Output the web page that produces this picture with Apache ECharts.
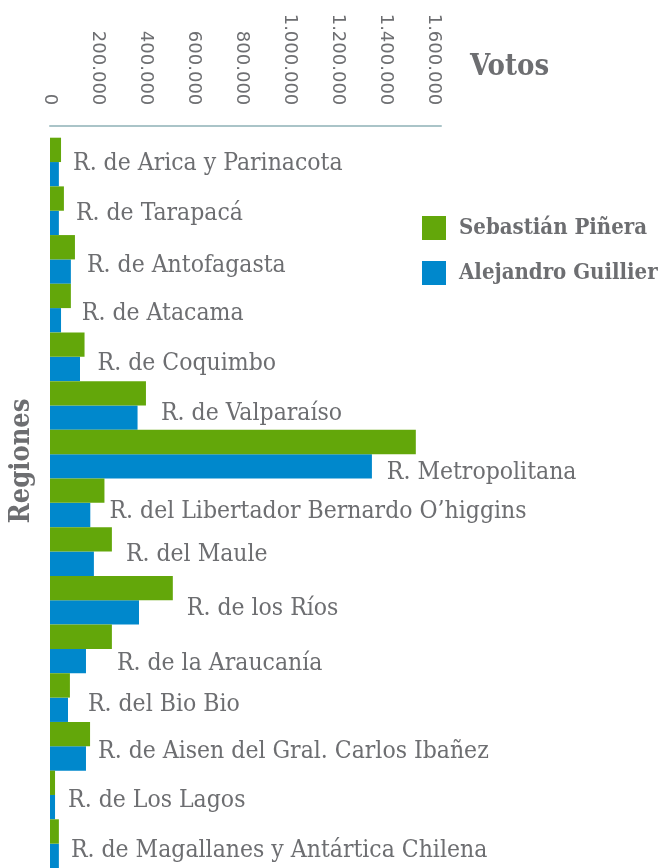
<!DOCTYPE html>
<html>
<head>
<meta charset="utf-8">
<script src="https://cdn.jsdelivr.net/npm/echarts@6/dist/echarts.min.js"></script>
<style>
  html, body { margin: 0; padding: 0; background: #fff; }
  #chart { width: 660px; height: 868px; }
</style>
</head>
<body>
<div id="chart"></div>
<script>
// regiones, de arriba hacia abajo
var regiones = [
    'R. de Arica y Parinacota', 'R. de Tarapacá', 'R. de Antofagasta', 'R. de Atacama',
    'R. de Coquimbo', 'R. de Valparaíso', 'R. Metropolitana', 'R. del Libertador Bernardo O\u2019higgins',
    'R. del Maule', 'R. de los Ríos', 'R. de la Araucanía', 'R. del Bio Bio',
    'R. de Aisen del Gral. Carlos Ibañez', 'R. de Los Lagos', 'R. de Magallanes y Antártica Chilena'
];
var pinera   = [46000, 58000, 104000, 87000, 144000, 400000, 1525000, 227000, 258000, 512000, 258000, 83000, 167000, 21000, 37000];
var guillier = [37000, 37000,  87000, 46000, 125000, 365000, 1342000, 168000, 183000, 371000, 150000, 75000, 150000, 21000, 37000];
var ticksVotos = [0, 200000, 400000, 600000, 800000, 1000000, 1200000, 1400000, 1600000];

var GRIS = '#6d6e71';
var SERIF = "'DejaVu Serif Condensed', 'DejaVu Serif', serif";

// ajuste de la etiqueta de cada region [dx, dy], a ojo
var ajuste = [[7,2],[7,3],[7,6],[6,6],[8,7],[10,8],[-34,19],[0,9],[9,3],[9,9],[0,15],[13,7],[3,6],[8,6],[7,7]];

var fmtMiles = function (v) {
    return String(v).replace(/\B(?=(\d{3})+(?!\d))/g, '.');
};

var datosPinera = pinera.map(function (v, i) {
    return {
        value: v,
        label: { offset: [ajuste[i][0], 12 + ajuste[i][1]] }
    };
});

var chart = echarts.init(document.getElementById('chart'));
chart.setOption({
    animation: false,
    backgroundColor: '#fff',
    grid: { left: 50, top: 137.7, width: 391, height: 735.3 },
    legend: {
        orient: 'vertical',
        left: 422, top: 216, padding: 0,
        itemWidth: 24, itemHeight: 24, itemGap: 21,
        icon: 'rect',
        textStyle: { fontFamily: SERIF, fontWeight: 'bold', fontSize: 22, color: GRIS, padding: [0, 0, 0, 8] },
        data: ['Sebastián Piñera', 'Alejandro Guillier']
    },
    xAxis: {
        type: 'value',
        position: 'top',
        offset: 12.4,
        min: 0, max: 1630000, interval: 200000,
        splitLine: { show: false },
        axisTick: { show: false },
        axisLine: { show: true, lineStyle: { color: '#aac4c8', width: 2 } },
        axisLabel: {
            rotate: 90, margin: 20, showMaxLabel: false,
            fontFamily: 'DejaVu Sans', fontSize: 18, color: GRIS,
            formatter: function (v) { return ticksVotos.indexOf(v) >= 0 ? fmtMiles(v) : ''; }
        }
    },
    yAxis: {
        type: 'category',
        inverse: true,
        data: regiones,
        axisLine: { show: false },
        axisTick: { show: false },
        axisLabel: { show: false },
        splitLine: { show: false }
    },
    series: [
        {
            name: 'Sebastián Piñera',
            type: 'bar',
            data: datosPinera,
            itemStyle: { color: '#63a70a' },
            barGap: 0,
            barCategoryGap: 0,
            label: {
                show: true,
                position: 'right',
                distance: 5,
                fontFamily: SERIF,
                fontSize: 24.5,
                color: GRIS,
                formatter: function (p) { return regiones[p.dataIndex]; }
            }
        },
        {
            name: 'Alejandro Guillier',
            type: 'bar',
            data: guillier,
            itemStyle: { color: '#0088cc' },
            barGap: 0,
            barCategoryGap: 0,
            z: 1
        }
    ],
    graphic: [
        {
            type: 'text', left: 470, top: 53,
            style: { text: 'Votos', font: 'bold 29px ' + SERIF, fill: GRIS }
        },
        {
            type: 'text', x: 22, y: 461, rotation: Math.PI / 2,
            style: { text: 'Regiones', font: 'bold 27px ' + SERIF, fill: GRIS, textAlign: 'center', textVerticalAlign: 'middle' }
        }
    ]
});
</script>
</body>
</html>
